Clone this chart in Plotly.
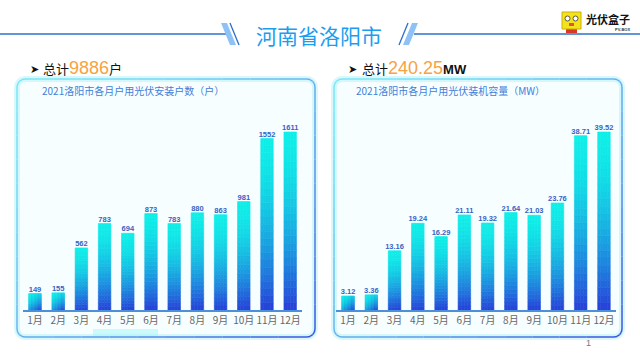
import plotly.graph_objects as go

months = ["1月", "2月", "3月", "4月", "5月", "6月", "7月", "8月", "9月", "10月", "11月", "12月"]
households = [149, 155, 562, 783, 694, 873, 783, 880, 863, 981, 1552, 1611]
capacity_mw = [3.12, 3.36, 13.16, 19.24, 16.29, 21.11, 19.32, 21.64, 21.03, 23.76, 38.71, 39.52]
total_households = "9886"
total_mw = "240.25"
page_title = "河南省洛阳市"
left_title = "2021洛阳市各月户用光伏安装户数（户）"
right_title = "2021洛阳市各月户用光伏装机容量（MW）"

W, H = 640, 360
CJK = "Noto Sans CJK SC, Liberation Sans, sans-serif"
NUM = "Liberation Sans, Arial, sans-serif"


def px(x):
    return x / W


def py(y):
    return 1 - y / H


def lerp(c1, c2, t):
    t = max(0.0, min(1.0, t))
    return "rgb(%d,%d,%d)" % tuple(round(a + (b - a) * t) for a, b in zip(c1, c2))


CYAN = (16, 238, 232)
BLUE = (40, 62, 216)

fig = go.Figure()

# plot geometry (pixels)
Y_BOT, Y_TOP = 310, 110
PLOT_H = Y_BOT - Y_TOP
BAR_W = 0.54
panels = [
    dict(vals=households, rng=1810, xa="x", ya="y", dom=(23.4, 301.8), fmt="{:d}"),
    dict(vals=capacity_mw, rng=44.4, xa="x2", ya="y2", dom=(336.4, 615.6), fmt="{:.2f}"),
]

M, N = 4, 24
for p in panels:
    vals = p["vals"]
    cat_px = (p["dom"][1] - p["dom"][0]) / 12
    wpx = BAR_W * cat_px
    for i in range(M):
        for j in range(N):
            xf = (i + 0.5) / M
            yd = 1 - (j + 0.5) / N
            cols = []
            for v in vals:
                hpx = v / p["rng"] * PLOT_H
                t = (xf * wpx ** 2 + yd * hpx ** 2) / (wpx ** 2 + hpx ** 2)
                cols.append(lerp(CYAN, BLUE, t ** 1.7))
            fig.add_trace(go.Bar(
                x=months, y=[v / N for v in vals], base=[v * j / N for v in vals],
                width=BAR_W / M, offset=-BAR_W / 2 + i * BAR_W / M,
                marker=dict(color=cols, line=dict(color=cols, width=0.6)),
                xaxis=p["xa"], yaxis=p["ya"], showlegend=False, hoverinfo="skip",
            ))
    fig.add_trace(go.Scatter(
        x=months, y=vals, mode="text",
        text=[p["fmt"].format(v) for v in vals], textposition="top center",
        textfont=dict(size=7.5, color="#3563C2", family="Liberation Sans, Arial", weight="bold"),
        xaxis=p["xa"], yaxis=p["ya"], showlegend=False, hoverinfo="skip", cliponaxis=False,
    ))

axis_common = dict(
    showgrid=False, zeroline=False, showline=True, linecolor="#4C8FDA", linewidth=1.5,
    tickfont=dict(size=10, color="#666666", family=CJK), ticks="", fixedrange=True,
)
fig.update_layout(
    width=W, height=H, margin=dict(l=0, r=0, t=0, b=0),
    paper_bgcolor="white", plot_bgcolor="rgba(0,0,0,0)",
    barmode="overlay", showlegend=False,
    xaxis=dict(domain=[px(23.4), px(301.8)], anchor="y", range=[-0.5, 11.5], **axis_common),
    yaxis=dict(domain=[py(Y_BOT), py(Y_TOP)], range=[0, 1810], visible=False, fixedrange=True),
    xaxis2=dict(domain=[px(336.4), px(615.6)], anchor="y2", range=[-0.5, 11.5], **axis_common),
    yaxis2=dict(domain=[py(Y_BOT), py(Y_TOP)], range=[0, 44.4], visible=False, fixedrange=True),
)

shapes = []


def rounded_points(x0, y0, x1, y1, r, seg=10, arc=4):
    import math
    pts = []
    def edge(a, b):
        for k in range(seg):
            pts.append((a[0] + (b[0] - a[0]) * k / seg, a[1] + (b[1] - a[1]) * k / seg))
    def corner(cx, cy, a0):
        for k in range(arc):
            a = math.radians(a0 + 90 * k / arc)
            pts.append((cx + r * math.cos(a), cy + r * math.sin(a)))
    edge((x0 + r, y0), (x1 - r, y0)); corner(x1 - r, y0 + r, -90)
    edge((x1, y0 + r), (x1, y1 - r)); corner(x1 - r, y1 - r, 0)
    edge((x1 - r, y1), (x0 + r, y1)); corner(x0 + r, y1 - r, 90)
    edge((x0, y1 - r), (x0, y0 + r)); corner(x0 + r, y0 + r, 180)
    pts.append(pts[0])
    return pts


def panel(x0, y0, x1, y1):
    pts = rounded_points(x0, y0, x1, y1, 8)
    path = "M " + " L ".join("%f,%f" % (px(a), py(b)) for a, b in pts) + " Z"
    # glow
    shapes.append(dict(type="path", path=path, xref="paper", yref="paper",
                       line=dict(color="rgba(150,235,245,0.35)", width=6), fillcolor="#F7FEFF", layer="below"))
    for (a0, b0), (a1, b1) in zip(pts[:-1], pts[1:]):
        t = (((a0 + a1) / 2 - x0) / (x1 - x0) + ((b0 + b1) / 2 - y0) / (y1 - y0)) / 2
        shapes.append(dict(type="line", xref="paper", yref="paper",
                           x0=px(a0), y0=py(b0), x1=px(a1), y1=py(b1),
                           line=dict(color=lerp((120, 232, 246), (55, 80, 225), t ** 1.5), width=1.5),
                           layer="below"))


panel(17, 79, 315, 337)
panel(334, 79, 622, 337)

# glow blob on left panel
shapes.append(dict(type="rect", xref="paper", yref="paper", x0=px(93), x1=px(158), y0=py(336), y1=py(329),
                   fillcolor="rgba(170,245,245,0.55)", line=dict(width=0), layer="below"))

# header lines and slashes
LINE_C = "#2D72C4"
shapes += [
    dict(type="line", xref="paper", yref="paper", x0=0, x1=px(226), y0=py(34), y1=py(34), line=dict(color=LINE_C, width=1.5)),
    dict(type="line", xref="paper", yref="paper", x0=px(414), x1=1, y0=py(34), y1=py(34), line=dict(color=LINE_C, width=1.5)),
    dict(type="path", xref="paper", yref="paper",
         path="M %f,%f L %f,%f L %f,%f L %f,%f Z" % (px(221), py(23), px(227), py(23), px(236), py(45), px(230), py(45)),
         fillcolor="#8EC2F7", line=dict(width=0)),
    dict(type="line", xref="paper", yref="paper", x0=px(230), y0=py(23), x1=px(239), y1=py(45), line=dict(color="#2F6FC8", width=1.3)),
    dict(type="line", xref="paper", yref="paper", x0=px(408), y0=py(23), x1=px(399), y1=py(45), line=dict(color="#2F6FC8", width=1.3)),
    dict(type="path", xref="paper", yref="paper",
         path="M %f,%f L %f,%f L %f,%f L %f,%f Z" % (px(412), py(23), px(418), py(23), px(409), py(45), px(403), py(45)),
         fillcolor="#8EC2F7", line=dict(width=0)),
]

# logo
shapes += [
    dict(type="rect", xref="paper", yref="paper", x0=px(566), x1=px(577), y0=py(33), y1=py(27),
         fillcolor="#D8392B", line=dict(width=0)),
    dict(type="rect", xref="paper", yref="paper", x0=px(562), x1=px(581), y0=py(29), y1=py(12),
         fillcolor="#F3E21C", line=dict(color="#C9B200", width=1)),
    dict(type="circle", xref="paper", yref="paper", x0=px(565), x1=px(570), y0=py(21), y1=py(16),
         fillcolor="white", line=dict(color="#333", width=0.8)),
    dict(type="circle", xref="paper", yref="paper", x0=px(573), x1=px(578), y0=py(21), y1=py(16),
         fillcolor="white", line=dict(color="#333", width=0.8)),
    dict(type="rect", xref="paper", yref="paper", x0=px(569), x1=px(574), y0=py(26), y1=py(23),
         fillcolor="#E0523A", line=dict(width=0)),
]
fig.update_layout(shapes=shapes)

ann = [
    dict(text=page_title, x=px(319), y=py(35), font=dict(size=21, color="#1C9DF0", family=CJK)),
    dict(text="<b>光伏盒子</b>", x=px(608), y=py(19), font=dict(size=11, color="#111", family=CJK)),
    dict(text="<b>PV-BOX</b>", x=px(622), y=py(29), font=dict(size=4, color="#333", family=NUM)),
    dict(text="<b>➤</b>", x=px(28), y=py(69), xanchor="left", font=dict(size=11, color="#111", family="DejaVu Sans")),
    dict(text="总计<span style='font-family:Liberation Sans;font-size:18px;color:#F7A243'>" + total_households + "</span>户",
         x=px(41), y=py(68), xanchor="left", font=dict(size=13, color="#111", family=CJK)),
    dict(text="<b>➤</b>", x=px(346), y=py(69), xanchor="left", font=dict(size=11, color="#111", family="DejaVu Sans")),
    dict(text="总计<span style='font-family:Liberation Sans;font-size:18px;color:#F7A243'>" + total_mw +
         "</span><span style='font-family:Liberation Sans;font-size:13px'><b>MW</b></span>",
         x=px(360), y=py(68), xanchor="left", font=dict(size=13, color="#111", family=CJK)),
    dict(text=left_title, x=px(40), y=py(90), xanchor="left", font=dict(size=10, color="#3F80D8", family=CJK)),
    dict(text=right_title, x=px(354), y=py(90), xanchor="left", font=dict(size=10, color="#3F80D8", family=CJK)),
    dict(text="1", x=px(588), y=py(343), font=dict(size=9, color="#777", family=NUM)),
]
for a in ann:
    a.setdefault("xanchor", "center")
    a.update(xref="paper", yref="paper", yanchor="middle", showarrow=False)
fig.update_layout(annotations=ann)

fig.write_html("out.html", config={"displayModeBar": False},
               post_script="document.body.style.margin='0';document.body.style.padding='0';")
